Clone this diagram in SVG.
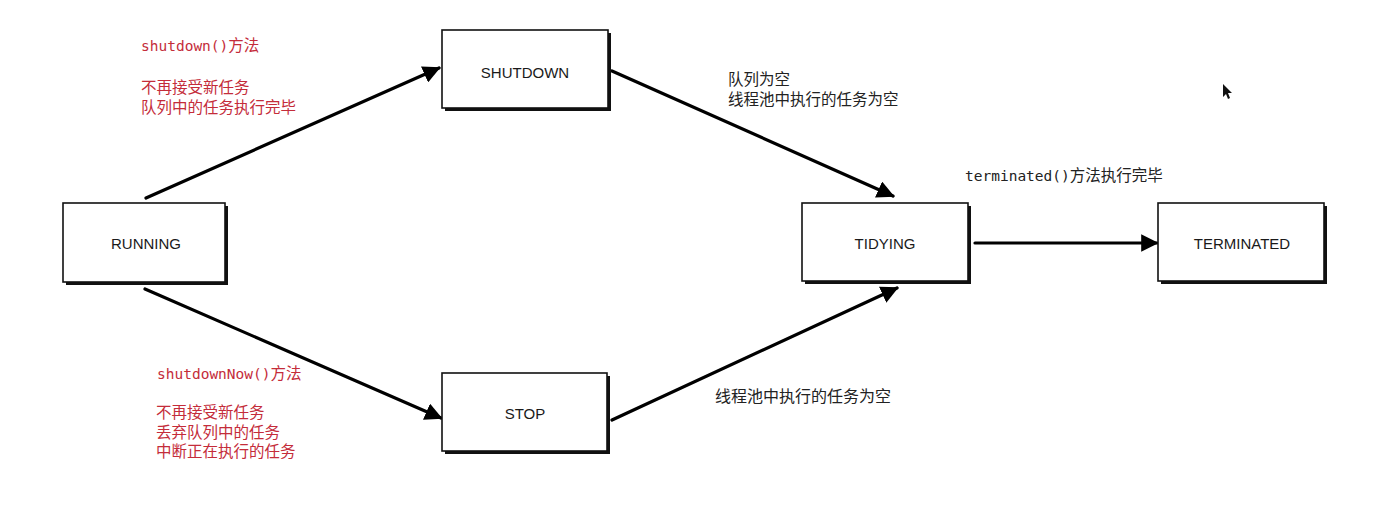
<svg xmlns="http://www.w3.org/2000/svg" width="1398" height="520" viewBox="0 0 1398 520">
  <style>
    .shadow { fill: #111; }
    .box { fill: #fff; stroke: #111; stroke-width: 1.6; }
    .label { font-family: "Liberation Sans", Arial, sans-serif; font-size: 15px; fill: #1a1a1a; text-anchor: middle; }
    .edge { fill: none; stroke: #000; stroke-width: 3.2; stroke-linecap: round; }
    .note { font-family: "Noto Sans CJK SC", sans-serif; font-size: 15.5px; fill: #222; }
    .red { fill: #c42c3a; }
    .mono { font-family: "DejaVu Sans Mono", "Liberation Mono", monospace; font-size: 14.5px; }
    .cjk { font-family: "Noto Sans CJK SC", sans-serif; font-size: 15.5px; }
  </style>
  <defs>
    <marker id="arrow" viewBox="0 0 10 10" refX="9" refY="5" markerWidth="5.5" markerHeight="5.5" markerUnits="strokeWidth" orient="auto">
      <path d="M0,0 L10,5 L0,10 Z" fill="#000"/>
    </marker>
  </defs>

  <rect width="1398" height="520" fill="#fff"/>

  <!-- state transitions -->
  <g id="connectors">
    <line class="edge" x1="146" y1="198" x2="439" y2="68" marker-end="url(#arrow)"/>
    <line class="edge" x1="145" y1="289" x2="441" y2="418" marker-end="url(#arrow)"/>
    <line class="edge" x1="612" y1="71" x2="893" y2="196" marker-end="url(#arrow)"/>
    <line class="edge" x1="612" y1="420" x2="897" y2="288" marker-end="url(#arrow)"/>
    <line class="edge" x1="975" y1="243" x2="1157" y2="243" marker-end="url(#arrow)"/>
  </g>

  <!-- states -->
  <g id="running">
    <rect class="shadow" x="66" y="206" width="162" height="79"/>
    <rect class="box" x="63" y="203" width="162" height="79"/>
    <text class="label" x="146" y="248.5">RUNNING</text>
  </g>
  <g id="shutdown">
    <rect class="shadow" x="445" y="33" width="166" height="78"/>
    <rect class="box" x="442" y="30" width="166" height="78"/>
    <text class="label" x="525" y="77.5">SHUTDOWN</text>
  </g>
  <g id="stop">
    <rect class="shadow" x="445" y="376" width="165" height="78"/>
    <rect class="box" x="442" y="373" width="165" height="78"/>
    <text class="label" x="525" y="418.5">STOP</text>
  </g>
  <g id="tidying">
    <rect class="shadow" x="805" y="206" width="166" height="78"/>
    <rect class="box" x="802" y="203" width="166" height="78"/>
    <text class="label" x="885" y="248.5">TIDYING</text>
  </g>
  <g id="terminated">
    <rect class="shadow" x="1161" y="206" width="166" height="78"/>
    <rect class="box" x="1158" y="203" width="166" height="78"/>
    <text class="label" x="1242" y="248.5">TERMINATED</text>
  </g>

  <!-- transition notes -->
  <g id="note-shutdown" class="red">
    <text x="141" y="51"><tspan class="mono">shutdown()</tspan><tspan class="cjk">方法</tspan></text>
    <text class="cjk" x="141" y="92.5">不再接受新任务</text>
    <text class="cjk" x="141" y="112.5">队列中的任务执行完毕</text>
  </g>
  <g id="note-shutdownnow" class="red">
    <text x="157" y="379"><tspan class="mono">shutdownNow()</tspan><tspan class="cjk">方法</tspan></text>
    <text class="cjk" x="156" y="418">不再接受新任务</text>
    <text class="cjk" x="156" y="437.5">丢弃队列中的任务</text>
    <text class="cjk" x="156" y="457">中断正在执行的任务</text>
  </g>
  <g id="note-tidying">
    <text class="note" x="728" y="84.5">队列为空</text>
    <text class="note" x="728" y="104.5">线程池中执行的任务为空</text>
    <text class="note" x="715" y="402" style="font-size:16px">线程池中执行的任务为空</text>
  </g>
  <g id="note-terminated">
    <text x="965" y="181" fill="#222"><tspan class="mono">terminated()</tspan><tspan class="cjk">方法执行完毕</tspan></text>
  </g>

  <!-- pointer -->
  <polygon points="1223,84 1223,97 1226,94 1228,99 1230,98 1228,93 1232,93" fill="#111"/>
</svg>
